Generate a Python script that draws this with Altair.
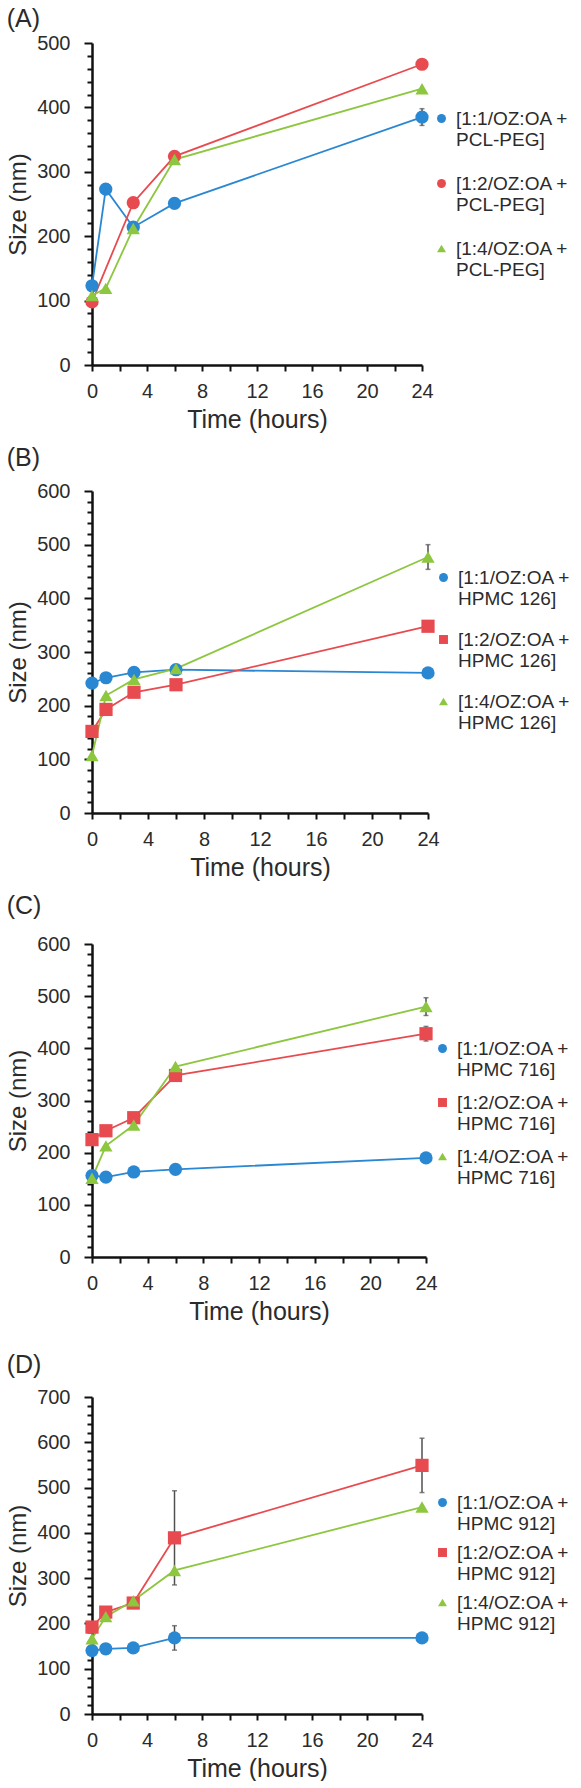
import altair as alt
import pandas as pd

FONT = "Liberation Sans"
TXT = "#2b2b2b"
AXC = "#111111"
COLORS = ["#2A87D2", "#E84B4F", "#8DC63F"]
ERR_COLOR = "#505050"

hours = [0, 1, 3, 6, 24]

# ---------------- Panel A : PCL-PEG ----------------
a_names = ["[1:1/OZ:OA +|PCL-PEG]", "[1:2/OZ:OA +|PCL-PEG]", "[1:4/OZ:OA +|PCL-PEG]"]
a_t11 = [0, 1, 3, 6, 24]
a_v11 = [123, 273, 214, 251, 385]
a_e11 = [0, 0, 0, 0, 13]
a_t12 = [0, 3, 6, 24]
a_v12 = [98, 252, 324, 467]
a_e12 = [0, 0, 0, 0]
a_t14 = [0, 1, 3, 6, 24]
a_v14 = [108, 119, 212, 319, 429]
a_e14 = [0, 0, 0, 0, 0]

# ---------------- Panel B : HPMC 126 ----------------
b_names = ["[1:1/OZ:OA +|HPMC 126]", "[1:2/OZ:OA +|HPMC 126]", "[1:4/OZ:OA +|HPMC 126]"]
b_v11 = [242, 252, 262, 267, 261]
b_e11 = [0, 0, 0, 0, 0]
b_v12 = [152, 193, 225, 239, 348]
b_e12 = [0, 0, 0, 0, 0]
b_v14 = [107, 219, 249, 269, 477]
b_e14 = [0, 0, 0, 0, 23]

# ---------------- Panel C : HPMC 716 ----------------
c_names = ["[1:1/OZ:OA +|HPMC 716]", "[1:2/OZ:OA +|HPMC 716]", "[1:4/OZ:OA +|HPMC 716]"]
c_v11 = [156, 153, 163, 168, 190]
c_e11 = [0, 0, 0, 0, 0]
c_v12 = [225, 242, 267, 348, 428]
c_e12 = [0, 0, 0, 0, 14]
c_v14 = [151, 213, 253, 365, 480]
c_e14 = [0, 0, 0, 0, 17]

# ---------------- Panel D : HPMC 912 ----------------
d_names = ["[1:1/OZ:OA +|HPMC 912]", "[1:2/OZ:OA +|HPMC 912]", "[1:4/OZ:OA +|HPMC 912]"]
d_v11 = [140, 144, 146, 168, 168]
d_e11 = [0, 0, 0, 27, 0]
d_v12 = [192, 225, 245, 389, 549]
d_e12 = [0, 0, 0, 104, 60]
d_v14 = [166, 215, 250, 317, 457]
d_e14 = [0, 0, 0, 0, 0]


def frame(names, series):
    rows = []
    for name, (ts, vs, es) in zip(names, series):
        for t, v, e in zip(ts, vs, es):
            rows.append({"series": name, "time": t, "size": v, "err": e})
    return pd.DataFrame(rows)


def panel(letter, names, series, ymax, w, h, shapes, leg_x, leg_y, row_pad, title_offset):
    df = frame(names, series)
    xs = alt.Scale(domain=[0, 24], nice=False, zero=False)
    ys = alt.Scale(domain=[0, ymax], nice=False)
    xaxis = alt.Axis(
        title="Time (hours)", values=list(range(0, 25, 2)),
        labelExpr="datum.value % 4 === 0 ? datum.label : ''",
        tickSize=6, labelPadding=10, titlePadding=6, grid=False,
        labelOverlap=False, labelFlush=False, labelBound=False,
    )
    yaxis = alt.Axis(
        title="Size (nm)", values=list(range(0, ymax + 1, 20)),
        labelExpr="datum.value % 100 === 0 ? datum.label : ''",
        tickSize={"condition": {"test": "datum.value % 100 === 0", "value": 8}, "value": 5},
        labelPadding=14, titlePadding=6, grid=False, titleFontSize=24,
        labelOverlap=False, labelFlush=False, labelBound=False,
    )
    X = alt.X("time:Q", scale=xs, axis=xaxis)
    cs = alt.Scale(domain=names, range=COLORS)
    ss = alt.Scale(domain=names, range=shapes)
    leg = alt.Legend(
        title=None, orient="none", legendX=leg_x, legendY=leg_y, padding=0,
        rowPadding=row_pad, labelOffset=5, symbolSize=80,
        labelExpr="split(datum.label, '|')", labelBaseline="middle",
        labelFont=FONT, labelFontSize=19, labelColor=TXT, labelLimit=300,
    )
    base = alt.Chart(df)
    err = base.transform_filter("datum.err > 0").transform_calculate(
        lo="datum.size - datum.err", hi="datum.size + datum.err")
    rule = err.mark_rule(color=ERR_COLOR, strokeWidth=1.5).encode(
        x=X, y=alt.Y("lo:Q", scale=ys, axis=yaxis), y2="hi:Q")
    cap_lo = err.mark_tick(orient="horizontal", size=5, thickness=1.5, color=ERR_COLOR).encode(
        x=X, y=alt.Y("lo:Q", scale=ys, axis=yaxis))
    cap_hi = err.mark_tick(orient="horizontal", size=5, thickness=1.5, color=ERR_COLOR).encode(
        x=X, y=alt.Y("hi:Q", scale=ys, axis=yaxis))
    line_layers = [
        base.transform_filter(alt.datum.series == name).mark_line(
            strokeWidth=1.8, color=col).encode(
            x=X, y=alt.Y("size:Q", scale=ys, axis=yaxis))
        for name, col in zip(names, COLORS)
    ]
    pts = base.mark_point(filled=True, size=175, opacity=1).encode(
        x=X, y=alt.Y("size:Q", scale=ys, axis=yaxis),
        color=alt.Color("series:N", scale=cs, legend=leg),
        shape=alt.Shape("series:N", scale=ss, legend=leg))
    return alt.layer(rule, cap_lo, cap_hi, *line_layers, pts).properties(
        width=w, height=h,
        title=alt.TitleParams(text=letter, anchor="start", frame="bounds", offset=title_offset,
                              fontSize=25, font=FONT, fontWeight="normal", color=TXT),
    )


A = panel("(A)", a_names,
          [(a_t11, a_v11, a_e11), (a_t12, a_v12, a_e12), (a_t14, a_v14, a_e14)],
          500, 330, 322, ["circle", "circle", "triangle-up"], 340, 66, 24, 1)
B = panel("(B)", b_names,
          [(hours, b_v11, b_e11), (hours, b_v12, b_e12), (hours, b_v14, b_e14)],
          600, 336, 322, ["circle", "square", "triangle-up"], 342, 77, 21, 10)
C = panel("(C)", c_names,
          [(hours, c_v11, c_e11), (hours, c_v12, c_e12), (hours, c_v14, c_e14)],
          600, 334, 313, ["circle", "square", "triangle-up"], 341, 95, 13, 15)
D = panel("(D)", d_names,
          [(hours, d_v11, d_e11), (hours, d_v12, d_e12), (hours, d_v14, d_e14)],
          700, 330, 317, ["circle", "square", "triangle-up"], 341, 96, 9, 9)

RES = dict(color="independent", shape="independent")

top3 = alt.vconcat(A, B, C, spacing=14).resolve_scale(**RES).resolve_legend(**RES)

chart = alt.vconcat(top3, D, spacing=29).resolve_scale(**RES).resolve_legend(**RES).properties(
    padding={"left": -2, "top": -1, "right": 0, "bottom": 0}
).configure_view(stroke=None).configure_axis(
    labelFont=FONT, titleFont=FONT, labelFontSize=20, titleFontSize=25,
    labelColor=TXT, titleColor=TXT, domainColor=AXC, tickColor=AXC,
    domainWidth=2.5, tickWidth=2, titleFontWeight="normal",
)

chart.save("out.html", embed_options={"renderer": "svg", "actions": False})
